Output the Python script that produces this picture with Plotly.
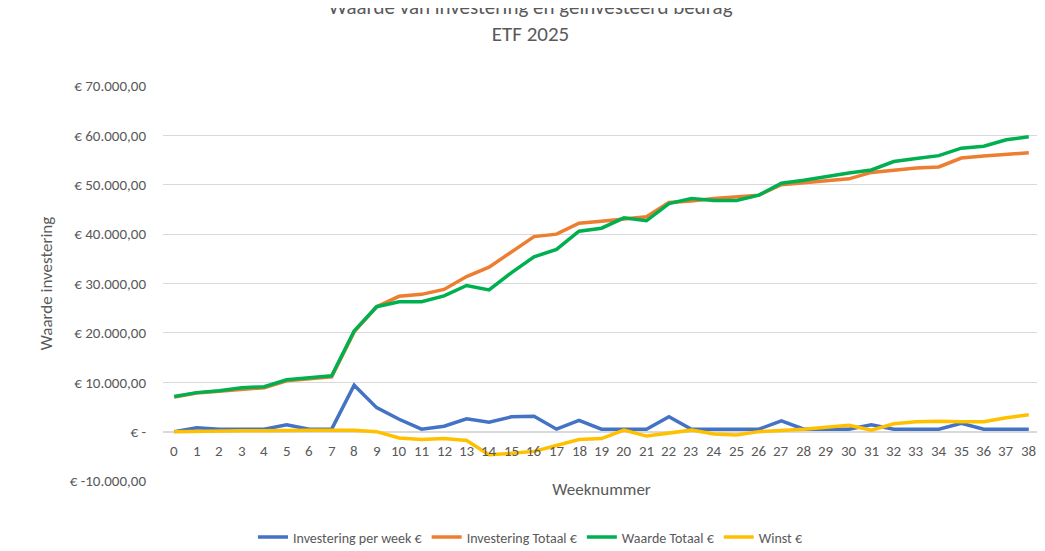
import plotly.graph_objects as go

weeks = list(range(39))
per_week = [0, 800, 500, 500, 500, 1400, 500, 500, 9400, 4850, 2500, 500, 1100, 2600, 1900, 3000, 3100, 500, 2300, 500,
            500, 500, 3000, 500, 500, 500, 500, 2200, 500, 500, 500, 1400, 500, 500, 500, 1700, 500, 500, 500]
totaal = [7000, 7800, 8200, 8600, 8900, 10300, 10700, 11100, 20200, 25300, 27400, 27800, 28800, 31400, 33300, 36400, 39500, 40000, 42200, 42600,
          43000, 43500, 46400, 46700, 47200, 47600, 47900, 50000, 50400, 50800, 51200, 52500, 53000, 53400, 53600, 55400, 55800, 56100, 56500]
waarde = [7100, 7900, 8300, 8900, 9100, 10500, 10900, 11300, 20400, 25300, 26300, 26300, 27500, 29600, 28700, 32200, 35400, 36900, 40600, 41200,
          43300, 42700, 46200, 47200, 46800, 46800, 47900, 50300, 50900, 51700, 52400, 53000, 54700, 55300, 55900, 57400, 57800, 59100, 59700]
winst = [0, 100, 100, 200, 200, 300, 300, 300, 300, 0, -1300, -1600, -1400, -1800, -4700, -4400, -4000, -2800, -1600, -1400,
         300, -900, -300, 300, -500, -700, 0, 200, 500, 900, 1300, 300, 1600, 2000, 2100, 2000, 2000, 2800, 3400]

tickvals = list(range(-10000, 70001, 10000))
ticktext = ['€ -' if v == 0 else '€ ' + f'{v:,.2f}'.replace(',', 'X').replace('.', ',').replace('X', '.') for v in tickvals]

fig = go.Figure()
for name, ys, col in [('Investering per week €', per_week, '#4472C4'),
                      ('Investering Totaal €', totaal, '#ED7D31'),
                      ('Waarde Totaal €', waarde, '#00B050'),
                      ('Winst €', winst, '#FFC000')]:
    fig.add_trace(go.Scatter(x=weeks, y=ys, name=name, mode='lines', line=dict(color=col, width=3.5)))

# Excel puts the week labels on the zero line
for w in weeks:
    fig.add_annotation(x=w, y=0, text=str(w), showarrow=False, yanchor='top', yshift=-8,
                       font=dict(size=15, color='#595959'))

fig.update_layout(
    width=1045, height=551, plot_bgcolor='white', paper_bgcolor='white',
    font=dict(family='Calibri, Carlito, Lato, sans-serif', color='#595959', size=13),
    title=dict(text='Waarde van investering en geïnvesteerd bedrag<br>ETF 2025', x=0.5, xref='container',
               y=0.99, yanchor='top', font=dict(size=21, color='#595959')),
    margin=dict(l=155, r=13, t=78, b=78),
    legend=dict(orientation='h', xref='container', x=0.5, xanchor='center', yref='container', y=0.01,
                yanchor='bottom', font=dict(size=14)),
)
fig.update_xaxes(tickmode='linear', dtick=1, range=[-0.5, 38.5], showgrid=False, showline=False, zeroline=False,
                 showticklabels=False, title=dict(text='Weeknummer', standoff=2, font=dict(size=17)))
fig.update_yaxes(range=[-10000, 70000], tickvals=tickvals, ticktext=ticktext, gridcolor='#D9D9D9', zeroline=True,
                 zerolinecolor='#D9D9D9', ticklabelstandoff=16,
                 title=dict(text='Waarde investering', font=dict(size=17), standoff=12), tickfont=dict(size=15))
fig.write_html("out.html")
